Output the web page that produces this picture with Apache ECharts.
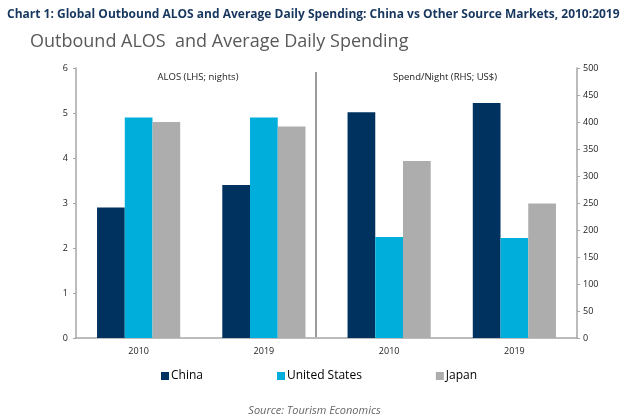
<!DOCTYPE html>
<html>
<head>
<meta charset="utf-8">
<script src="https://cdn.jsdelivr.net/npm/echarts@6/dist/echarts.min.js"></script>
<style>
  html, body { margin: 0; padding: 0; background: #fff; }
  #chart { width: 629px; height: 419px; }
</style>
</head>
<body>
<div id="chart"></div>
<script>
// categories: two years per panel (ALOS left, spend right)
const categories = ['2010', '2019', '2010', '2019'];
// ALOS, nights (left axis)
const alosChina = [2.9, 3.4];
const alosUS = [4.9, 4.9];
const alosJapan = [4.8, 4.7];
// spend per night, US$ (right axis)
const spendChina = [418, 435];
const spendUS = [187, 185];
const spendJapan = [328, 249];
// tick labels
const leftTicks = [0, 1, 2, 3, 4, 5, 6];
const rightTicks = [0, 50, 100, 150, 200, 250, 300, 350, 400, 450, 500];

const colors = { China: '#00325F', 'United States': '#00AEDB', Japan: '#ADADAD' };
const FONT = '"Open Sans", "Noto Sans", sans-serif';

const chart = echarts.init(document.getElementById('chart'));

// left panel values go in first two slots, right panel in last two
const leftData = arr => arr.concat(['-', '-']);
const rightData = arr => ['-', '-'].concat(arr);

const makeSeries = (name, data, axis) => ({
  name: name,
  type: 'bar',
  stack: name,
  yAxisIndex: axis,
  data: data,
  barGap: 0,
  barCategoryGap: '33.6%',
  itemStyle: { color: colors[name] },
  emphasis: { disabled: true }
});

const axisGray = '#A6A6A6';

const option = {
  animation: false,
  backgroundColor: '#fff',
  textStyle: { fontFamily: FONT },
  title: [
    {
      text: 'Chart 1: Global Outbound ALOS and Average Daily Spending: China vs Other Source Markets, 2010:2019',
      left: 2,
      top: 4,
      textStyle: { fontSize: 12, fontWeight: 'bold', color: '#17375E', fontFamily: FONT }
    },
    {
      text: 'Outbound ALOS  and Average Daily Spending',
      left: 25,
      top: 28,
      textStyle: { fontSize: 18, fontWeight: 'normal', color: '#595959', fontFamily: FONT }
    },
    {
      text: 'Source: Tourism Economics',
      left: 'center',
      top: 400,
      textStyle: { fontSize: 11, fontStyle: 'italic', fontWeight: 'normal', color: '#666666', fontFamily: FONT }
    }
  ],
  legend: {
    data: ['China', 'United States', 'Japan'],
    top: 365,
    left: 156,
    itemWidth: 8,
    itemHeight: 8,
    itemGap: 74,
    icon: 'rect',
    textStyle: { fontSize: 12, color: '#000', fontFamily: FONT, padding: [0, 0, 0, -3] }
  },
  grid: { left: 76, right: 52, top: 68, bottom: 81 },
  xAxis: {
    type: 'category',
    data: categories,
    axisLine: { lineStyle: { color: axisGray, width: 1.5 } },
    axisTick: { show: false },
    axisLabel: { fontSize: 9, color: '#222', margin: 9 }
  },
  yAxis: [
    {
      type: 'value',
      min: leftTicks[0],
      max: leftTicks[leftTicks.length - 1],
      interval: 1,
      position: 'left',
      axisLine: { show: true, lineStyle: { color: axisGray, width: 1.5 } },
      axisTick: { show: true, length: 3, lineStyle: { color: axisGray } },
      axisLabel: { fontSize: 9, color: '#222', margin: 8 },
      splitLine: { show: false }
    },
    {
      type: 'value',
      min: rightTicks[0],
      max: rightTicks[rightTicks.length - 1],
      interval: 50,
      position: 'right',
      axisLine: { show: true, lineStyle: { color: axisGray, width: 1.5 } },
      axisTick: { show: true, length: 3, lineStyle: { color: axisGray } },
      axisLabel: { fontSize: 9, color: '#222', margin: 6 },
      splitLine: { show: false }
    }
  ],
  graphic: [
    // panel separator
    {
      type: 'line',
      shape: { x1: 316, y1: 72, x2: 316, y2: 337 },
      style: { stroke: '#595959', lineWidth: 1.2 },
      silent: true
    },
    {
      type: 'text',
      x: 198, y: 77,
      style: { text: 'ALOS (LHS; nights)', fill: '#222', font: '9.5px ' + FONT, align: 'center', verticalAlign: 'middle' }
    },
    {
      type: 'text',
      x: 445, y: 77,
      style: { text: 'Spend/Night (RHS; US$)', fill: '#222', font: '9.5px ' + FONT, align: 'center', verticalAlign: 'middle' }
    }
  ],
  series: [
    makeSeries('China', leftData(alosChina), 0),
    makeSeries('United States', leftData(alosUS), 0),
    makeSeries('Japan', leftData(alosJapan), 0),
    makeSeries('China', rightData(spendChina), 1),
    makeSeries('United States', rightData(spendUS), 1),
    makeSeries('Japan', rightData(spendJapan), 1)
  ]
};

chart.setOption(option);
</script>
</body>
</html>
